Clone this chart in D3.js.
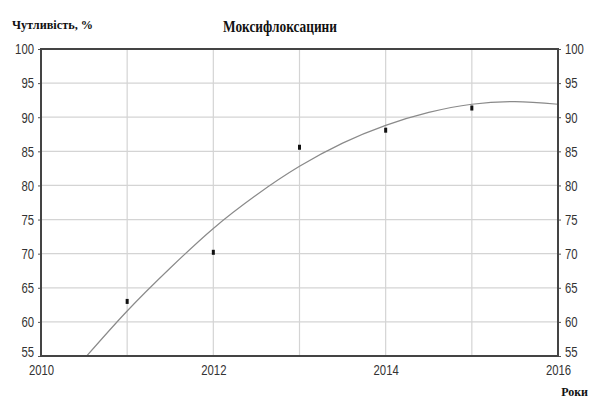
<html>
<script src='https://d3js.org/d3.v7.min.js'></script>
<style>
body {margin:0; background:#fff;}
.tk text {font-family:'Liberation Sans',Arial,sans-serif; font-size:15px; fill:#333;}
.lbl {font-family:'Liberation Serif','Times New Roman',serif; font-weight:bold; fill:#111;}
</style>
<body>
<svg width=590 height=401></svg>
<script>
// measured points
var years = [2011, 2012, 2013, 2014, 2015]
var values = [63.0, 70.2, 85.6, 88.1, 91.35]
// trend line
var trendX = [2010.53, 2011, 2011.5, 2012, 2012.5, 2013, 2013.5, 2014, 2014.5, 2015, 2015.5, 2016]
var trendY = [55, 61.6, 67.9, 73.7, 78.6, 82.8, 86.2, 88.8, 90.7, 91.9, 92.3, 91.9]
var yTicks = [55, 60, 65, 70, 75, 80, 85, 90, 95, 100]
var xGrid = [2011, 2012, 2013, 2014, 2015]
var xLabels = [2010, 2012, 2014, 2016]

var svg = d3.select("svg")
var x = d3.scaleLinear().domain([2010, 2016]).range([41, 558])
var y = d3.scaleLinear().domain([55, 100]).range([356, 49])

// grid
svg.append("g").selectAll("line").data(yTicks.slice(1, -1)).enter().append("line")
  .attr("x1", x(2010)).attr("x2", x(2016))
  .attr("y1", d => y(d)).attr("y2", d => y(d))
  .attr("stroke", "#d4d4d4").attr("stroke-width", 1.2)
svg.append("g").selectAll("line").data(xGrid).enter().append("line")
  .attr("x1", d => x(d)).attr("x2", d => x(d))
  .attr("y1", y(55)).attr("y2", y(100))
  .attr("stroke", "#d4d4d4").attr("stroke-width", 1.2)

// trend
var pts = trendX.map((d, i) => [d, trendY[i]])
svg.append("path").datum(pts)
  .attr("d", d3.line().x(d => x(d[0])).y(d => y(d[1])).curve(d3.curveMonotoneX))
  .attr("fill", "none").attr("stroke", "#8a8a8a").attr("stroke-width", 1.2)

// points
svg.append("g").selectAll("rect").data(years).enter().append("rect")
  .attr("x", d => x(d) - 1.5).attr("y", (d, i) => y(values[i]) - 2.5)
  .attr("width", 3).attr("height", 5).attr("fill", "#111")

// axes
svg.append("g").attr("class", "tk").attr("transform", "translate(" + x(2010) + ",0)")
  .call(d3.axisLeft(y).tickValues(yTicks).tickSize(3).tickPadding(4))
svg.append("g").attr("class", "tk").attr("transform", "translate(" + x(2016) + ",0)")
  .call(d3.axisRight(y).tickValues(yTicks).tickSize(3).tickPadding(4))
svg.append("g").attr("class", "tk").attr("transform", "translate(0," + y(55) + ")")
  .call(d3.axisBottom(x).tickValues(xLabels).tickSize(0).tickPadding(8).tickFormat(d3.format("d")))
svg.selectAll(".tk .domain").remove()
svg.selectAll(".tk line").attr("stroke", "#555")
// narrow digits like the original
svg.selectAll(".tk text")
  .attr("textLength", function() { return this.textContent.length * 6.3 })
  .attr("lengthAdjust", "spacingAndGlyphs")
// lowest y labels sit a little above the bottom edge
svg.selectAll(".tk .tick").filter(d => d === 55).select("text").attr("y", -4)

// frame
svg.append("rect").attr("x", x(2010)).attr("y", y(100))
  .attr("width", x(2016) - x(2010)).attr("height", y(55) - y(100))
  .attr("fill", "none").attr("stroke", "#444").attr("stroke-width", 2)

svg.append("text").attr("class", "lbl").attr("x", 280).attr("y", 32)
  .attr("text-anchor", "middle").style("font-size", "16px")
  .attr("textLength", 114).attr("lengthAdjust", "spacingAndGlyphs").text("Моксифлоксацини")
svg.append("text").attr("class", "lbl").attr("x", 12).attr("y", 29)
  .style("font-size", "12px").attr("textLength", 81).attr("lengthAdjust", "spacingAndGlyphs")
  .text("Чутливість, %")
svg.append("text").attr("class", "lbl").attr("x", 588).attr("y", 396)
  .attr("text-anchor", "end").style("font-size", "12px").text("Роки")
</script>
</body>
</html>
